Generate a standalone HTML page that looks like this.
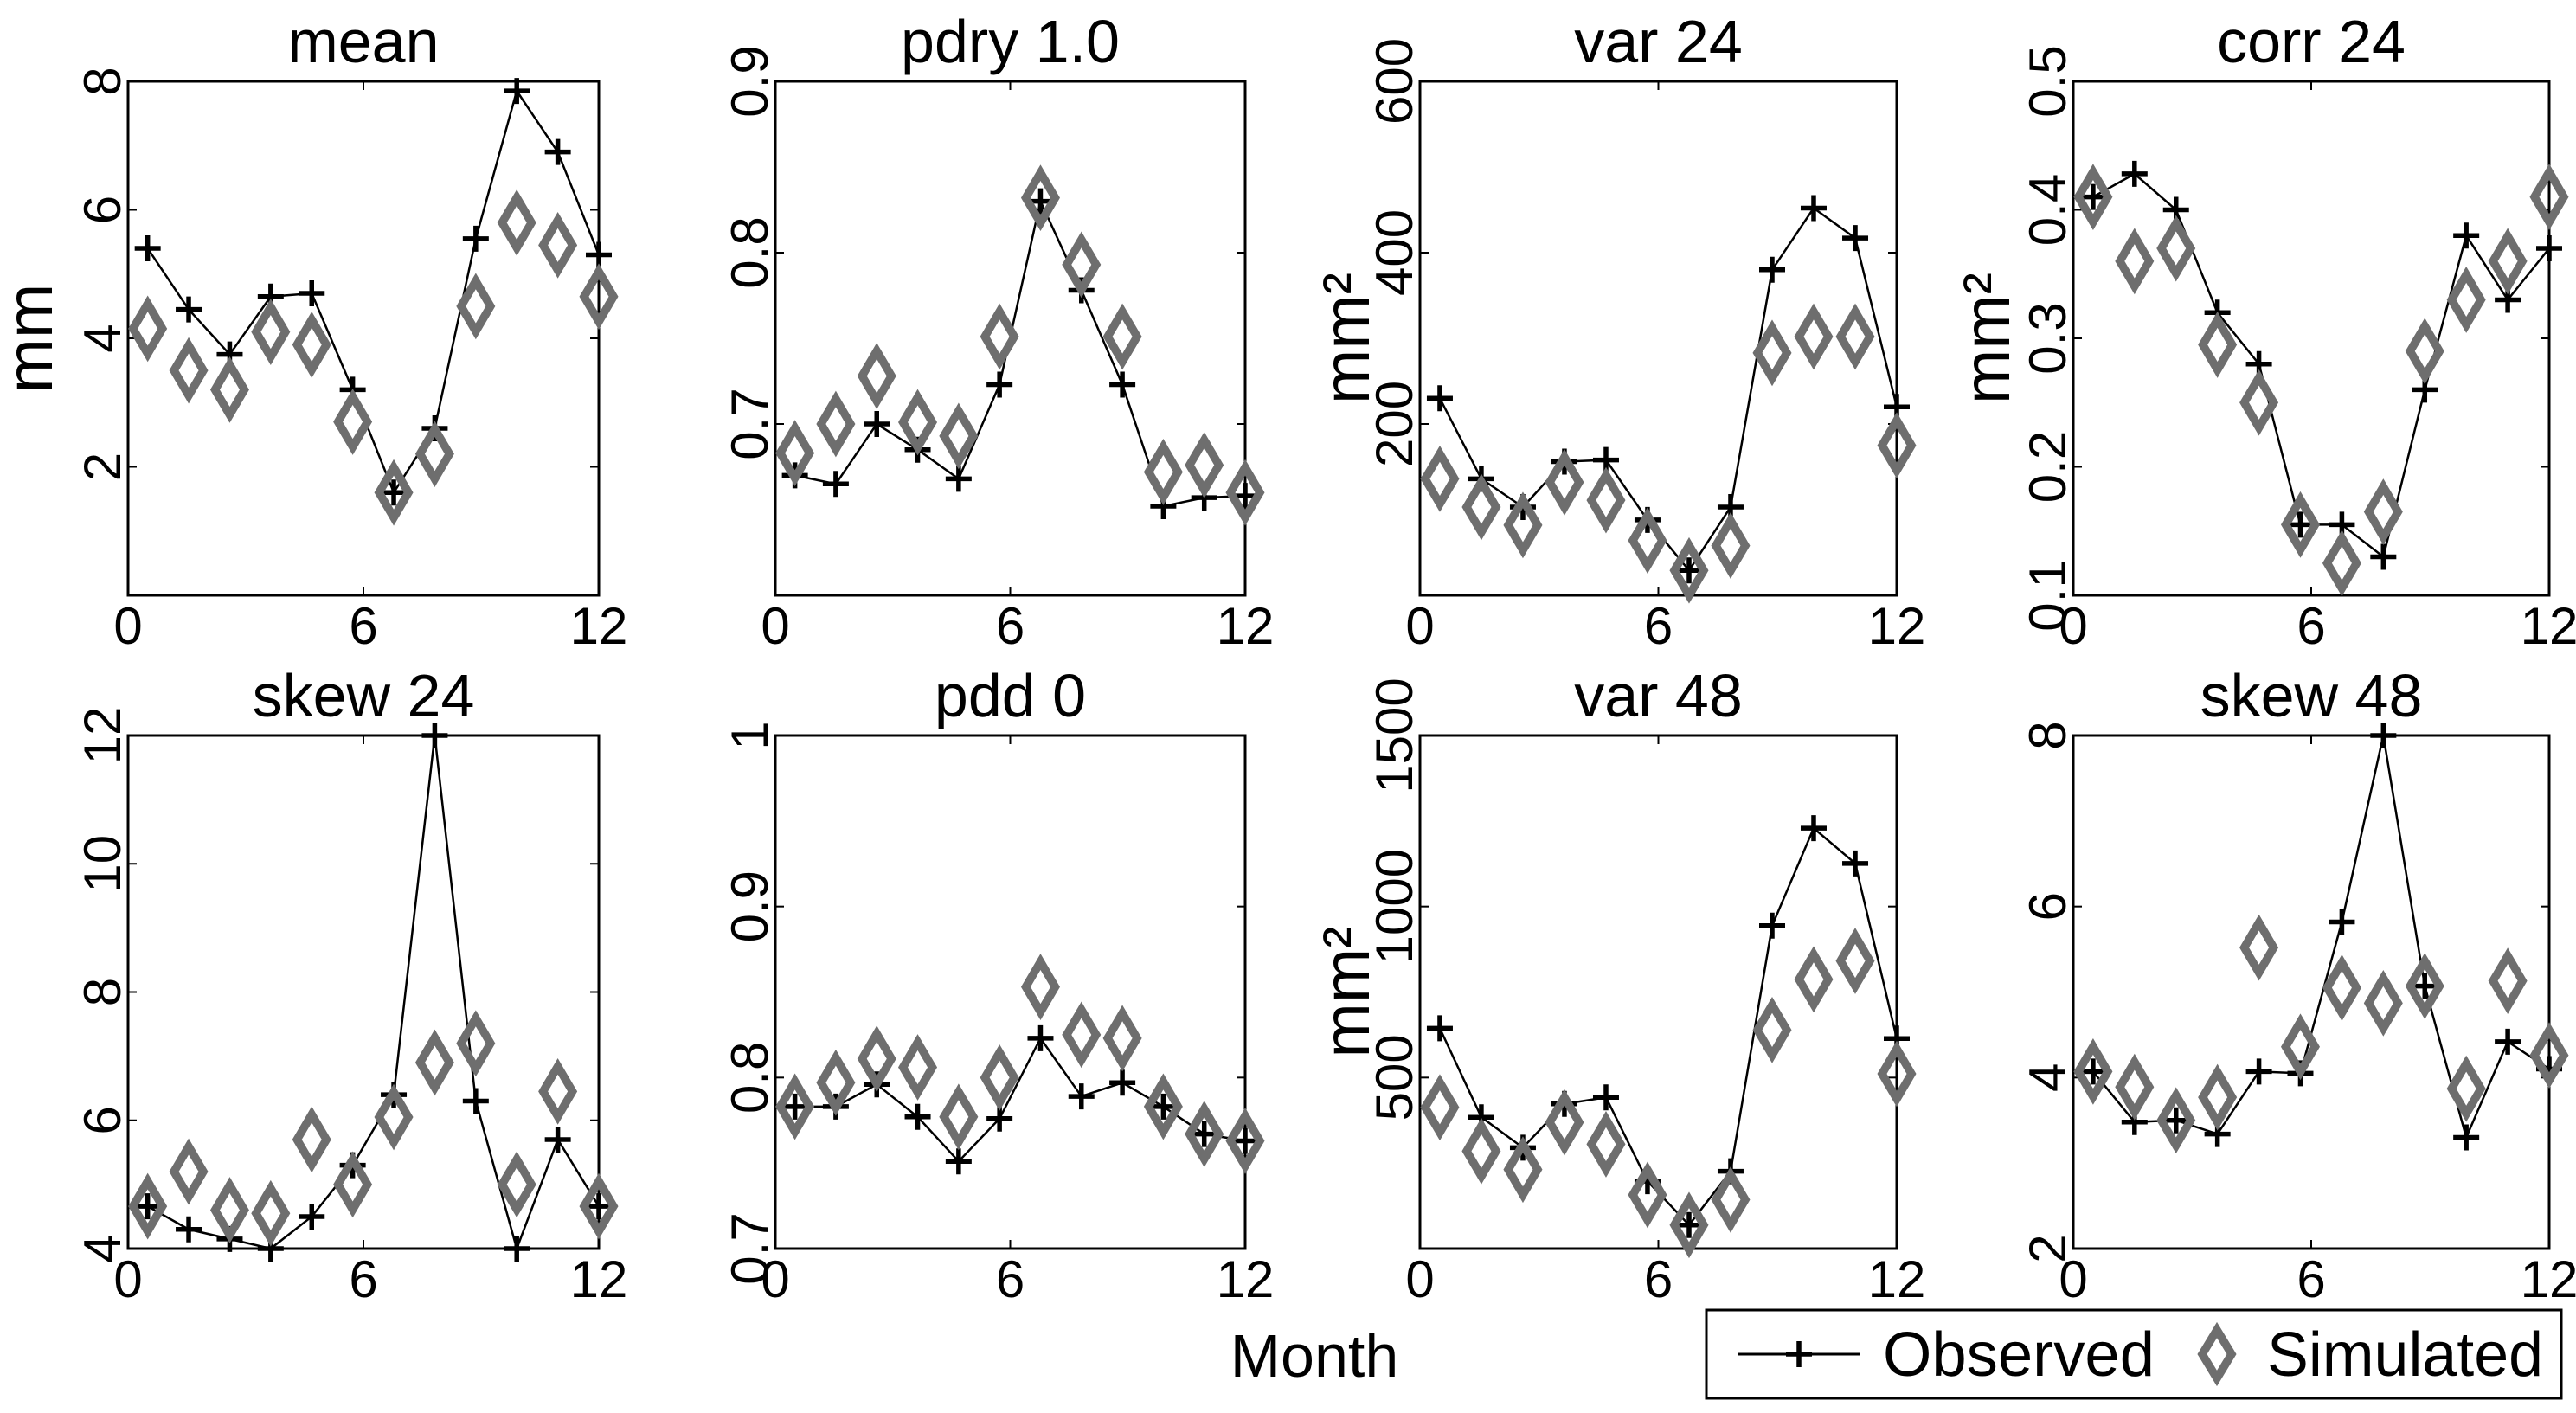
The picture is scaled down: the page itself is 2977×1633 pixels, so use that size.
<!DOCTYPE html>
<html><head><meta charset="utf-8"><style>
html,body{margin:0;padding:0;background:#fff}
svg text{font-family:"Liberation Sans",Arial,sans-serif;fill:#000}
</style></head><body>
<svg id="chart" width="2977" height="1628" viewBox="0 0 2977 1628" xmlns="http://www.w3.org/2000/svg"></svg>
<script>
const months = [0.5,1.545,2.591,3.636,4.682,5.727,6.773,7.818,8.864,9.909,10.955,12];
const titles = ["mean","pdry 1.0","var 24","corr 24","skew 24","pdd 0","var 48","skew 48"];
const yMins = [0,0.6,0,0.1,4,0.7,0,2];
const yMaxs = [8,0.9,600,0.5,12,1,1500,8];
const yTickLabels = [["2","4","6","8"],["0.7","0.8","0.9"],["200","400","600"],["0.1","0.2","0.3","0.4","0.5"],["4","6","8","10","12"],["0.7","0.8","0.9","1"],["500","1000","1500"],["2","4","6","8"]];
const xTickLabels = ["0","6","12"];
const obsMean = [5.4,4.45,3.75,4.65,4.7,3.2,1.6,2.6,5.55,7.85,6.9,5.3];
const simMean = [4.15,3.5,3.2,4.1,3.9,2.7,1.6,2.2,4.5,5.8,5.45,4.65];
const obsPdry = [0.670,0.665,0.700,0.685,0.668,0.723,0.830,0.778,0.723,0.652,0.657,0.658];
const simPdry = [0.683,0.700,0.728,0.701,0.693,0.751,0.832,0.793,0.751,0.672,0.676,0.660];
const obsVar24 = [230,136,103,156,158,88,29,103,380,452,417,220];
const simVar24 = [136,103,82,132,111,64,29,58,283,302,302,175];
const obsCorr = [0.41,0.428,0.40,0.32,0.28,0.155,0.155,0.13,0.26,0.38,0.33,0.37];
const simCorr = [0.41,0.36,0.37,0.295,0.25,0.155,0.125,0.165,0.29,0.33,0.36,0.41];
const obsSkew24 = [4.66,4.3,4.15,4.0,4.5,5.3,6.4,12,6.3,4.0,5.7,4.66];
const simSkew24 = [4.66,5.2,4.6,4.55,5.7,5.0,6.05,6.9,7.2,5.0,6.45,4.66];
const obsPdd = [0.783,0.783,0.796,0.777,0.751,0.776,0.823,0.789,0.797,0.783,0.767,0.763];
const simPdd = [0.783,0.797,0.811,0.806,0.777,0.800,0.853,0.825,0.823,0.783,0.767,0.763];
const obsVar48 = [644,384,295,423,442,197,69,226,944,1229,1126,614];
const simVar48 = [413,285,231,369,305,157,69,143,639,787,841,511];
const obsSkew48 = [4.07,3.48,3.5,3.34,4.07,4.05,5.82,8,5.07,3.3,4.42,4.1];
const simSkew48 = [4.07,3.89,3.5,3.77,5.52,4.36,5.05,4.87,5.07,3.87,5.13,4.26];
const obsAll = [obsMean,obsPdry,obsVar24,obsCorr,obsSkew24,obsPdd,obsVar48,obsSkew48];
const simAll = [simMean,simPdry,simVar24,simCorr,simSkew24,simPdd,simVar48,simSkew48];
const yLabels = ["mm","","mm²","mm²","","","mm²",""];

const NS="http://www.w3.org/2000/svg";
const svg=document.getElementById('chart');
function mk(tag,attrs,parent){const e=document.createElementNS(NS,tag);for(const k in attrs)e.setAttribute(k,attrs[k]);(parent||svg).appendChild(e);return e;}
const lefts=[148,896,1641,2396], rights=[692,1439,2192,2946];
const tops=[94,850], bottoms=[688,1443];
const ylabX=[60,0,1582,2322,0,0,1582,0];

for(let p=0;p<8;p++){
  const c=p%4,r=Math.floor(p/4);
  const L=lefts[c],R=rights[c],T=tops[r],B=bottoms[r];
  const xs=v=>L+(v/12)*(R-L);
  const ys=v=>B-(v-yMins[p])/(yMaxs[p]-yMins[p])*(B-T);
  const g=mk('g',{});
  
  
  const t=mk('text',{x:(L+R)/2,y:T-22,'font-size':70,'text-anchor':'middle'},g);
  t.textContent=titles[p];
  
  
  const box=mk('rect',{x:L,y:T,width:R-L,height:B-T,fill:'none',stroke:'#000','stroke-width':3},g);
  
  
  xTickLabels.forEach(lb=>{
    const v=+lb,x=xs(v);
    mk('line',{x1:x,x2:x,y1:B,y2:B-10,stroke:'#000','stroke-width':2},g);
    mk('line',{x1:x,x2:x,y1:T,y2:T+10,stroke:'#000','stroke-width':2},g);
    const tx=mk('text',{x:x,y:B+56,'font-size':60,'text-anchor':'middle'},g);
    tx.textContent=lb;
    
    
  });
  yTickLabels[p].forEach(lb=>{
    const y=ys(+lb);
    mk('line',{x1:L,x2:L+10,y1:y,y2:y,stroke:'#000','stroke-width':2},g);
    mk('line',{x1:R,x2:R-10,y1:y,y2:y,stroke:'#000','stroke-width':2},g);
    const ty=mk('text',{x:0,y:0,'font-size':60,'text-anchor':'middle',transform:`translate(${L-9},${y}) rotate(-90)`},g);
    ty.textContent=lb;
    
    
  });
  if(yLabels[p]){
    const yl=mk('text',{x:0,y:0,'font-size':76,'text-anchor':'middle',transform:`translate(${ylabX[p]},${(T+B)/2}) rotate(-90)`},g);
    yl.textContent=yLabels[p];
    
    
  }
  const obs=obsAll[p],sim=simAll[p];
  const pts=obs.map((v,i)=>xs(months[i])+','+ys(v)).join(' ');
  const pl=mk('polyline',{points:pts,fill:'none',stroke:'#000','stroke-width':2.5},g);
  
  
  obs.forEach((v,i)=>{
    const x=xs(months[i]),y=ys(v);
    const m=mk('path',{d:`M${x-15},${y}H${x+15}M${x},${y-15}V${y+15}`,stroke:'#000','stroke-width':5.5},g);
    
    
  });
  sim.forEach((v,i)=>{
    const x=xs(months[i]),y=ys(v);
    const d=mk('path',{d:`M${x},${y-29}L${x+17},${y}L${x},${y+29}L${x-17},${y}Z`,fill:'none',stroke:'#6e6e6e','stroke-width':9.5},g);
    
    
  });
}
const mt=mk('text',{x:1519,y:1591,'font-size':70,'text-anchor':'middle'});
mt.textContent='Month';


const lg=mk('g',{});


mk('rect',{x:1972,y:1514,width:988,height:102,fill:'#fff',stroke:'#000','stroke-width':3},lg);
mk('line',{x1:2008,x2:2150,y1:1565,y2:1565,stroke:'#000','stroke-width':3},lg);
mk('path',{d:'M2064,1565H2094M2079,1550V1580',stroke:'#000','stroke-width':5.5},lg);
const lo=mk('text',{x:2176,y:1590,'font-size':72,textLength:314,lengthAdjust:'spacingAndGlyphs'},lg);
lo.textContent='Observed';


mk('path',{d:'M2562,1537L2579,1565L2562,1593L2545,1565Z',fill:'none',stroke:'#6e6e6e','stroke-width':9.5},lg);
const ls=mk('text',{x:2620,y:1590,'font-size':72,textLength:319,lengthAdjust:'spacingAndGlyphs'},lg);
ls.textContent='Simulated';


</script>
</body></html>
